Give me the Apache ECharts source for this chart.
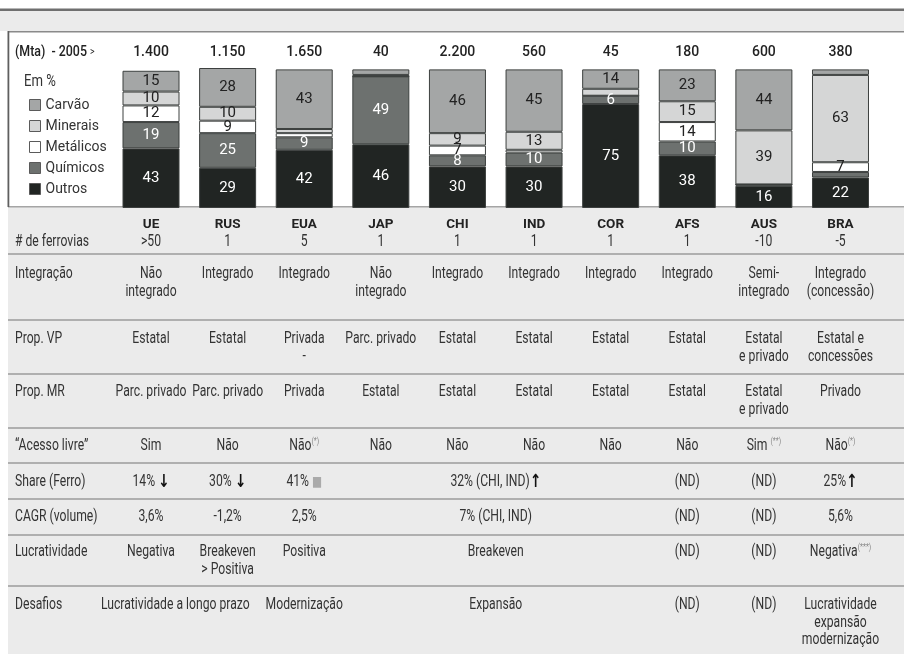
<!DOCTYPE html>
<html><head><meta charset="utf-8">
<script src="https://cdn.jsdelivr.net/npm/echarts@6/dist/echarts.min.js"></script>
<style>html,body{margin:0;padding:0;background:#fff}#c{width:904px;height:654px}</style>
</head><body><div id="c"></div>
<script>
// ---- data ----
const categories = ['UE','RUS','EUA','JAP','CHI','IND','COR','AFS','AUS','BRA'];
const totals = ['1.400','1.150','1.650','40','2.200','560','45','180','600','380'];
const outros    = [43,29,42,46,30,30,75,38,16,22];
const quimicos  = [19,25, 9,49, 8,10, 6,10, 1, 4];
const metalicos = [12, 9, 3, 0, 7, 2, 0,14, 0, 7];
const minerais  = [10,10, 3, 1, 9,13, 5,15,39,63];
const carvao    = [15,28,43, 4,46,45,14,23,44, 4];

const rowLabels = ['# de ferrovias','Integração','Prop. VP','Prop. MR','\u201cAcesso livre\u201d','Share (Ferro)','CAGR (volume)','Lucratividade','Desafios'];
const ferrovias = ['>50','1','5','1','1','1','1','1','-10','-5'];
const integracao = ['Não\nintegrado','Integrado','Integrado','Não\nintegrado','Integrado','Integrado','Integrado','Integrado','Semi-\nintegrado','Integrado\n(concessão)'];
const propVP = ['Estatal','Estatal','Privada\n-','Parc. privado','Estatal','Estatal','Estatal','Estatal','Estatal\ne privado','Estatal e\nconcessões'];
const propMR = ['Parc. privado','Parc. privado','Privada','Estatal','Estatal','Estatal','Estatal','Estatal','Estatal\ne privado','Privado'];
const acesso = ['Sim','Não','Não{s|(*)}','Não','Não','Não','Não','Não','Sim {s|(**)}','Não{s|(*)}'];
// [text, first column, last column]
const share = [['14% {a|↓}',0,0],['30% {a|↓}',1,1],['41% {g|■}',2,2],['32% (CHI, IND){a|↑}',4,5],['(ND)',7,7],['(ND)',8,8],['25%{a|↑}',9,9]];
const cagr = [['3,6%',0,0],['-1,2%',1,1],['2,5%',2,2],['7% (CHI, IND)',4,5],['(ND)',7,7],['(ND)',8,8],['5,6%',9,9]];
const lucratividade = [['Negativa',0,0],['Breakeven\n> Positiva',1,1],['Positiva',2,2],['Breakeven',4,5],['(ND)',7,7],['(ND)',8,8],['Negativa{s|(***)}',9,9]];
const desafios = [['Lucratividade a longo prazo',0,1],['Modernização',2,2],['Expansão',4,5],['(ND)',7,7],['(ND)',8,8],['Lucratividade\nexpansão\nmodernização',9,9]];

// ---- styling ----
const FONT = "Roboto,'DejaVu Sans Condensed',sans-serif";
const TXT = '#333';
const chart = echarts.init(document.getElementById('c'));

const defs = [
  {name:'Outros', data:outros, color:'#212523', lc:'#ffffff'},
  {name:'Químicos', data:quimicos, color:'#6d716f', lc:'#ffffff'},
  {name:'Metálicos', data:metalicos, color:'#ffffff', lc:'#222'},
  {name:'Minerais', data:minerais, color:'#d5d6d6', lc:'#222'},
  {name:'Carvão', data:carvao, color:'#a4a6a6', lc:'#222'}
];

chart.setOption({
  animation:false,
  grid:{left:112.7, right:25.2, top:68, bottom:446},
  legend:{
    data:['Carvão','Minerais','Metálicos','Químicos','Outros'],
    orient:'vertical', left:24, top:93, itemWidth:11, itemHeight:11, itemGap:7,
    icon:'rect', selectedMode:false, itemStyle:{borderColor:'#5a5a5a', borderWidth:1},
    textStyle:{fontFamily:FONT, fontSize:14, color:TXT, lineHeight:14}
  },
  xAxis:[
    {type:'category', data:categories, position:'bottom',
     axisLine:{show:false}, axisTick:{show:false},
     axisLabel:{margin:10, fontSize:13.5, fontWeight:'bold', color:'#222', fontFamily:FONT}},
    {type:'category', data:totals, position:'top',
     axisLine:{show:false}, axisTick:{show:false},
     axisLabel:{margin:9, fontSize:14, fontWeight:500, color:'#222', fontFamily:FONT}}
  ],
  yAxis:{type:'value', min:0, max:101, show:false},
  series: defs.map(d => ({
    name:d.name, type:'bar', stack:'s', barWidth:57, data:d.data,
    itemStyle:{color:d.color, borderColor:'#3d403f', borderWidth:1},
    label:{show:true, position:'inside', color:d.lc, fontSize:15, fontFamily:FONT,
           formatter: p => p.value >= 6 ? String(p.value) : ''}
  }))
});

const cx = categories.map(c => chart.convertToPixel({xAxisIndex:0}, c));
const rich = {
  s:{fontSize:9, fill:'#888', verticalAlign:'top', fontFamily:FONT},
  a:{fontSize:18, fontWeight:'bold', fill:'#111', fontFamily:'DejaVu Sans'},
  g:{fontSize:14, fill:'#aaa', fontFamily:'DejaVu Sans'}
};
const LH = 17.5, SX = 0.76;
const g = [];
// backgrounds
g.push({type:'rect', z:-10, shape:{x:0,y:8.5,width:904,height:2.5}, style:{fill:'#6f6f6f'}});
g.push({type:'rect', z:-10, shape:{x:0,y:11,width:904,height:20}, style:{fill:'#ebebeb'}});
g.push({type:'rect', z:-10, shape:{x:8,y:31,width:896,height:1.5}, style:{fill:'#8a8a8a'}});
g.push({type:'rect', z:-10, shape:{x:8,y:206.5,width:896,height:447.5}, style:{fill:'#ebebeb'}});
g.push({type:'rect', z:-9, shape:{x:8,y:206,width:896,height:1.5}, style:{fill:'#a5a5a5'}});
g.push({type:'rect', z:-9, shape:{x:7.5,y:31,width:1.8,height:176}, style:{fill:'#5f5f5f'}});
// separators
[254,320,374,428,463,499,535,586].forEach(y => g.push({type:'rect', z:-5, shape:{x:8,y:y-0.75,width:896,height:1.5}, style:{fill:'#9b9b9b'}}));

function txt(x, yc, text, align, extra, sx){
  g.push({type:'text', z:20, x:x, y:yc - LH/2, scaleX: sx || SX, style:Object.assign({
    text:text, fill:TXT, fontSize:16, fontFamily:FONT, align:align||'center',
    verticalAlign:'top', lineHeight:LH, rich:rich}, extra||{})});
}
// header texts
txt(15, 52, '(Mta)  - 2005 {gt|>}', 'left', {fill:'#222', fontWeight:500, fontSize:15.5, rich:{gt:{fontSize:11, fontFamily:FONT, fill:'#222'}}}, 0.8);
txt(24, 82, 'Em %', 'left', {fontSize:16}, 0.82);

const rowY = [242,274,339,392,446,482,517,552,605];
rowLabels.forEach((t,i) => txt(15, rowY[i], t, 'left'));
const colRows = [ferrovias, integracao, propVP, propMR, acesso];
colRows.forEach((arr,r) => arr.forEach((t,i) => txt(cx[i], rowY[r], t)));
const spanRows = [share, cagr, lucratividade, desafios];
// spans that start at the first column sit a little left of the midpoint
spanRows.forEach((arr,r) => arr.forEach(([t,a,b]) => {
  const shift = (a === 0 && b > a) ? -14 : 0;
  txt((cx[a]+cx[b])/2 + shift, rowY[5+r], t);
}));

chart.setOption({graphic:{elements:g}});
</script></body></html>
